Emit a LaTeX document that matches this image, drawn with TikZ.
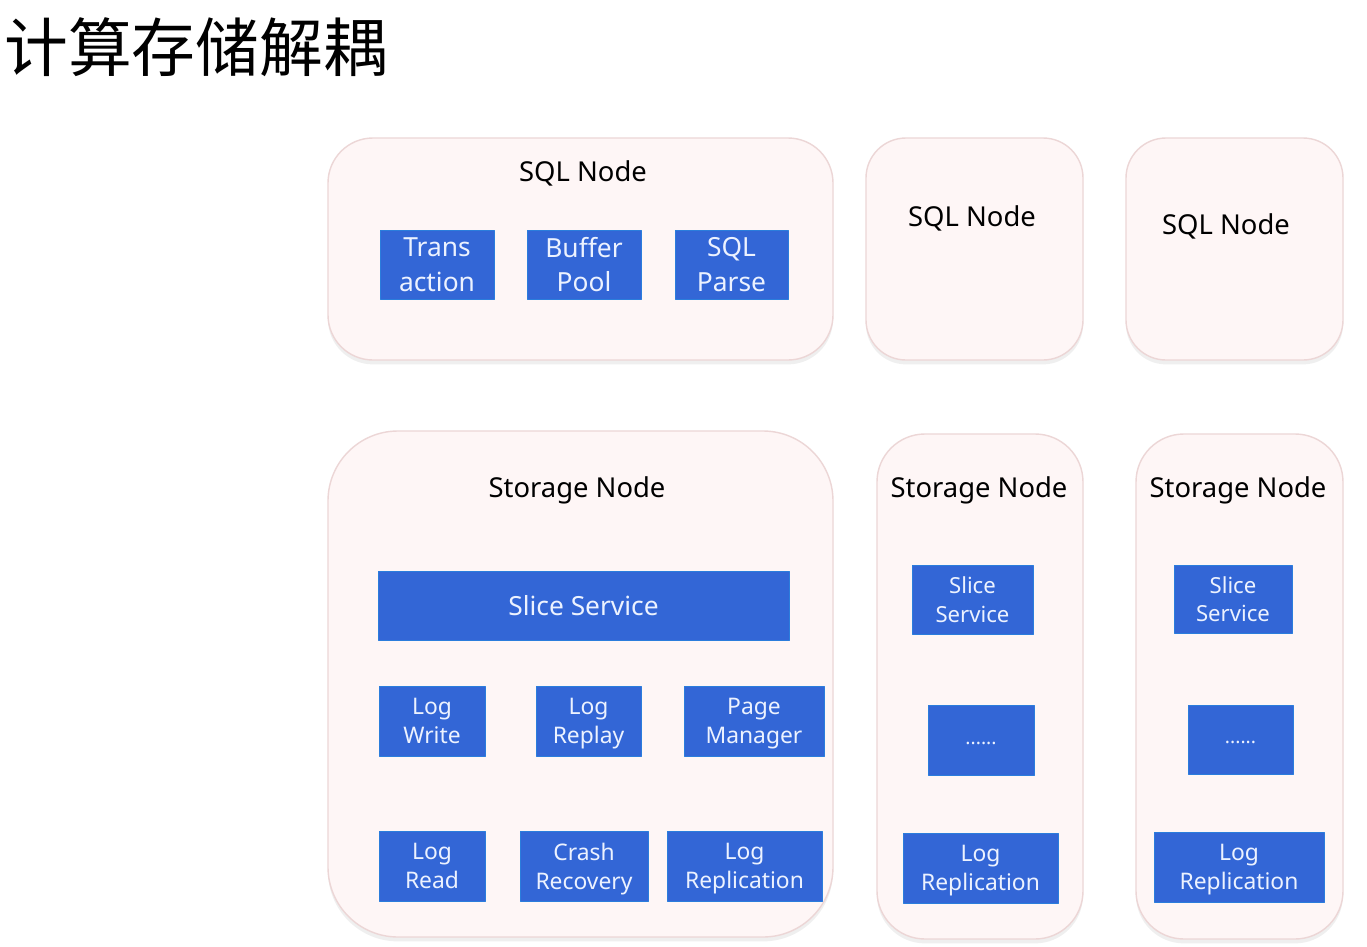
\documentclass[tikz,border=0pt]{standalone}
\usepackage{fontspec}
\setmainfont{Noto Sans}
\newfontfamily\cjk{Noto Sans CJK SC}
\usetikzlibrary{shadows}

\definecolor{blockblue}{RGB}{51,102,214}
\definecolor{boxpink}{RGB}{254,246,246}
\definecolor{boxline}{RGB}{236,214,214}
\definecolor{blocktext}{RGB}{236,242,255}

\begin{document}
\begin{tikzpicture}[x=0.02cm, y=-0.02cm, line join=round]

  % ===== Parameters =====
  \def\u{0.02cm}   % one pixel of the reference

  \tikzset{
    container/.style={draw=boxline, fill=boxpink, line width=0.8pt,
      drop shadow={opacity=0.12, shadow xshift=0pt, shadow yshift=-2.5pt}},
    title/.style={font=\fontsize{15.6}{18}\selectfont, text=black, yshift=-1.4pt},
    block/.style={fill=blockblue, draw=blockblue!85!cyan, line width=0.5pt,
      text=blocktext, align=center, inner sep=0pt, text depth=0pt,
      font=\fontsize{13}{16.4}\selectfont},
    smallblock/.style={block, font=\fontsize{12.6}{16.4}\selectfont},
    bigblock/.style={block, font=\fontsize{15}{19.8}\selectfont}
  }

  % ===== Canvas =====
  \useasboundingbox[fill=white] (0,0) rectangle (1367,947);

  % ===== Title =====
  \node[anchor=west, inner sep=0pt, font=\cjk\fontsize{36.3}{40}\selectfont] (heading) at (4,47) {计算存储解耦};

  % ===== SQL nodes =====
  \draw[container, rounded corners=45*\u] (328,138) rectangle (833,360);
  \draw[container, rounded corners=40*\u] (866,138) rectangle (1083,360);
  \draw[container, rounded corners=40*\u] (1126,138) rectangle (1343,360);

  \node[title] (sqlA) at (583,171) {SQL Node};
  \node[title] (sqlB) at (972,216) {SQL Node};
  \node[title] (sqlC) at (1226,224) {SQL Node};

  \node[bigblock, minimum width=114*\u, minimum height=69*\u] (trans) at (437,264.5) {Trans\\action};
  \node[bigblock, minimum width=114*\u, minimum height=69*\u] (buffer) at (584,264.5) {Buffer\\Pool};
  \node[bigblock, minimum width=113*\u, minimum height=69*\u] (parse) at (731.5,264.5) {SQL\\Parse};

  % ===== Storage nodes =====
  \draw[container, rounded corners=70*\u] (328,431) rectangle (833,937);
  \draw[container, rounded corners=48*\u] (877,434) rectangle (1083,939);
  \draw[container, rounded corners=48*\u] (1136,434) rectangle (1343,939);

  \node[title] (storA) at (577,488) {Storage Node};
  \node[title] (storB) at (979,488) {Storage Node};
  \node[title] (storC) at (1238,488) {Storage Node};

  % big storage node
  \node[block, minimum width=411*\u, minimum height=69*\u, font=\fontsize{15}{18}\selectfont] (sliceA) at (583.5,605.5) {Slice Service};
  \node[block, minimum width=106*\u, minimum height=70*\u] (logwrite) at (432,721) {Log\\Write};
  \node[block, minimum width=105*\u, minimum height=70*\u] (logreplay) at (588.5,721) {Log\\Replay};
  \node[block, minimum width=140*\u, minimum height=70*\u] (pagemgr) at (754,721) {Page\\Manager};
  \node[block, minimum width=106*\u, minimum height=70*\u] (logread) at (432,866) {Log\\Read};
  \node[block, minimum width=128*\u, minimum height=70*\u] (crash) at (584,866) {Crash\\Recovery};
  \node[block, minimum width=155*\u, minimum height=70*\u] (logrepA) at (744.5,866) {Log\\Replication};

  % second storage node
  \node[smallblock, minimum width=121*\u, minimum height=69*\u] (sliceB) at (972.5,599.5) {Slice\\Service};
  \node[block, minimum width=106*\u, minimum height=70*\u, font=\fontsize{11}{13}\selectfont, text depth=0pt] (moreB) at (981,740) {\raisebox{-2.5pt}{......}};
  \node[block, minimum width=155*\u, minimum height=70*\u] (logrepB) at (980.5,868) {Log\\Replication};

  % third storage node
  \node[smallblock, minimum width=118*\u, minimum height=68*\u] (sliceC) at (1233,599) {Slice\\Service};
  \node[block, minimum width=105*\u, minimum height=69*\u, font=\fontsize{11}{13}\selectfont] (moreC) at (1240.5,739.5) {\raisebox{-2.5pt}{......}};
  \node[block, minimum width=170*\u, minimum height=70*\u] (logrepC) at (1239,867) {Log\\Replication};

\end{tikzpicture}
\end{document}
